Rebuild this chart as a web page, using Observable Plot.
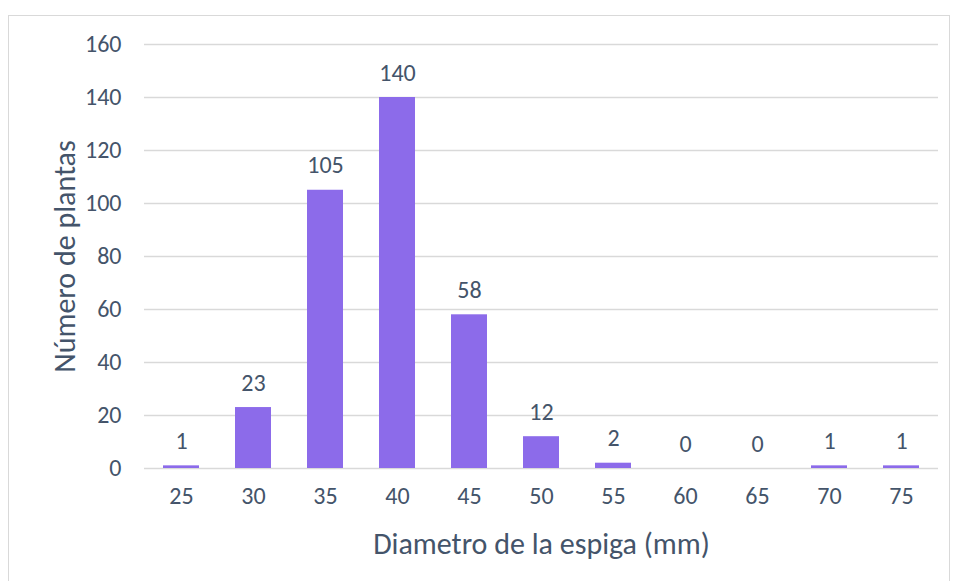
<!DOCTYPE html>
<html><head><meta charset="utf-8">
<script src="https://cdn.jsdelivr.net/npm/d3@7"></script>
<script src="https://cdn.jsdelivr.net/npm/@observablehq/plot@0.6"></script>
<style>
body{margin:0;background:#fff;}
#wrap{position:relative;width:956px;height:581px;overflow:hidden;}
#frame{position:absolute;left:8px;top:15px;width:942px;height:600px;border:1px solid #D9D9D9;box-sizing:border-box;pointer-events:none;}
</style></head>
<body><div id="wrap"><div id="frame"></div></div>
<script>
const categories = ["25","30","35","40","45","50","55","60","65","70","75"];
const values = [1,23,105,140,58,12,2,0,0,1,1];
const yTicks = [0,20,40,60,80,100,120,140,160];
const xTitle = "Diametro de la espiga (mm)";
const yTitle = "Número de plantas";

const data = categories.map((c,i)=>({cat:c, v:values[i]}));
const txt = "#44546A";
const font = "Calibri, Carlito, 'Open Sans', sans-serif";

const chart = Plot.plot({
  width:956, height:581,
  marginLeft:144, marginRight:18, marginTop:44, marginBottom:113,
  style:{fontFamily:font, fontSize:"24px", color:txt, background:"transparent"},
  x:{domain:categories, padding:0, label:null},
  y:{domain:[0,160], label:null},
  marks:[
    Plot.gridY(yTicks,{stroke:"#D9D9D9", strokeOpacity:1, strokeWidth:1.5}),
    Plot.axisY({ticks:yTicks, tickSize:0, tickPadding:23, fontSize:24, fill:txt}),
    Plot.axisX({tickSize:0, tickPadding:18, fontSize:24, fill:txt}),
    Plot.barY(data,{x:"cat", y:"v", fill:"#8C6BEA", insetLeft:18, insetRight:18}),
    Plot.text(data,{x:"cat", y:"v", text:d=>String(d.v), lineAnchor:"bottom", dy:-17, fontSize:24, fill:txt}),
    Plot.text([xTitle],{frameAnchor:"bottom", dy:85, fontSize:30, fill:txt}),
    Plot.text([yTitle],{frameAnchor:"left", textAnchor:"middle", dx:-79, rotate:-90, fontSize:30, fill:txt})
  ]
});
document.getElementById("wrap").prepend(chart);
</script></body></html>
